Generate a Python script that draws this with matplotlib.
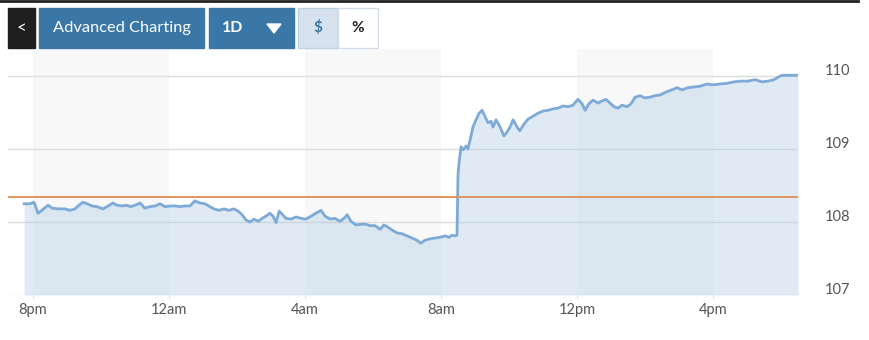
"""Intraday 1D price chart with previous-close line"""
import numpy as np
import matplotlib
matplotlib.use("Agg")
import matplotlib.pyplot as plt
import matplotlib.patches as mpatches
import matplotlib.transforms as mtransforms

plt.rcParams["font.family"] = ["Lato", "DejaVu Sans"]

# hours after 8pm, price
hours = [-0.26, -0.09, 0.03, 0.15, 0.26, 0.44, 0.56, 0.74, 0.94, 1.09, 1.24, 1.35, 1.47, 1.59,
         1.74, 1.88, 2.06, 2.21, 2.35, 2.47, 2.62, 2.74, 2.88, 3.0, 3.15, 3.29, 3.44, 3.59,
         3.74, 3.88, 4.03, 4.18, 4.32, 4.47, 4.62, 4.76, 4.91, 5.06, 5.21, 5.32, 5.47, 5.62,
         5.76, 5.91, 6.03, 6.15, 6.26, 6.38, 6.5, 6.62, 6.74, 6.85, 6.97, 7.06, 7.15, 7.24,
         7.32, 7.44, 7.59, 7.74, 7.88, 8.03, 8.18, 8.32, 8.47, 8.59, 8.74, 8.88, 9.03, 9.15,
         9.24, 9.35, 9.5, 9.65, 9.79, 9.91, 10.06, 10.21, 10.32, 10.44, 10.56, 10.71, 10.85,
         11.0, 11.15, 11.29, 11.41, 11.53, 11.68, 11.82, 11.97, 12.12, 12.24, 12.32, 12.41,
         12.47, 12.5, 12.53, 12.59, 12.65, 12.74, 12.79, 12.85, 12.94, 13.03, 13.12, 13.21,
         13.29, 13.38, 13.47, 13.53, 13.62, 13.74, 13.85, 13.94, 14.03, 14.12, 14.24, 14.32,
         14.44, 14.56, 14.71, 14.85, 15.0, 15.15, 15.29, 15.44, 15.59, 15.74, 15.88, 16.03,
         16.15, 16.24, 16.35, 16.47, 16.62, 16.74, 16.85, 16.97, 17.09, 17.21, 17.32, 17.47,
         17.59, 17.71, 17.85, 18.0, 18.15, 18.29, 18.44, 18.62, 18.79, 18.94, 19.09, 19.26,
         19.44, 19.62, 19.82, 20.0, 20.21, 20.41, 20.62, 20.82, 21.03, 21.24, 21.44, 21.62,
         21.79, 21.94, 22.03, 22.26, 22.5]
price = [108.25, 108.25, 108.27, 108.12, 108.16, 108.23, 108.19, 108.18, 108.18, 108.16, 108.18,
         108.23, 108.27, 108.25, 108.22, 108.21, 108.18, 108.22, 108.26, 108.23, 108.22, 108.23,
         108.21, 108.23, 108.26, 108.19, 108.21, 108.22, 108.25, 108.21, 108.22, 108.22, 108.21,
         108.22, 108.22, 108.29, 108.26, 108.25, 108.21, 108.18, 108.16, 108.18, 108.16, 108.18,
         108.15, 108.10, 108.03, 108.0, 108.04, 108.01, 108.05, 108.08, 108.12, 108.08, 107.99,
         108.15, 108.11, 108.05, 108.04, 108.07, 108.05, 108.04, 108.08, 108.12, 108.16, 108.08,
         108.04, 108.05, 108.01, 108.05, 108.10, 108.01, 107.96, 107.97, 107.97, 107.95, 107.95,
         107.90, 107.96, 107.93, 107.89, 107.85, 107.84, 107.81, 107.78, 107.75, 107.71, 107.75,
         107.77, 107.78, 107.79, 107.81, 107.79, 107.82, 107.81, 107.82, 108.64, 108.81, 109.03,
         108.99, 109.04, 109.0, 109.11, 109.3, 109.4, 109.49, 109.53, 109.45, 109.36, 109.38,
         109.3, 109.4, 109.3, 109.18, 109.23, 109.3, 109.4, 109.3, 109.25, 109.34, 109.41, 109.45,
         109.49, 109.52, 109.53, 109.55, 109.56, 109.59, 109.58, 109.6, 109.68, 109.62, 109.53,
         109.62, 109.67, 109.63, 109.66, 109.68, 109.63, 109.58, 109.56, 109.6, 109.58, 109.62,
         109.71, 109.73, 109.7, 109.71, 109.73, 109.74, 109.78, 109.81, 109.84, 109.81, 109.84,
         109.85, 109.86, 109.89, 109.88, 109.89, 109.9, 109.92, 109.93, 109.93, 109.95, 109.92,
         109.93, 109.95, 109.99, 110.01, 110.01, 110.01]
prev_close = 108.34

tick_hours = [0, 4, 8, 12, 16, 20]
tick_labels = ["8pm", "12am", "4am", "8am", "12pm", "4pm"]
price_ticks = [107, 108, 109, 110]

fig = plt.figure(figsize=(8.7, 3.4), dpi=100)
ax = fig.add_axes([8 / 870, 1 - 295 / 340, 790 / 870, 246 / 340])
ax.set_xlim(-0.735, 22.5)
ax.set_ylim(107, 110.37)

# alternating time bands
for start in tick_hours[::2]:
    ax.axvspan(start, start + 4, color="#f8f8f8", lw=0, zorder=0)

for p in price_ticks:
    ax.axhline(p, color="#dcdcdc", lw=1, zorder=1)

ax.fill_between(hours, price, 107, color="#a9c8e3", alpha=0.37, lw=0, zorder=2)
ax.plot(hours, price, color="#7eaad8", lw=2.0, zorder=3)
ax.axhline(prev_close, color="#e0955f", lw=1.4, zorder=4)

for s in ax.spines.values():
    s.set_visible(False)
ax.set_xticks(tick_hours)
ax.set_xticklabels(tick_labels)
ax.tick_params(axis="x", length=3, color="#e4e4e4", labelsize=10.5, labelcolor="#555555", pad=3)
ax.yaxis.tick_right()
ax.set_yticks(price_ticks)
ax.tick_params(axis="y", length=0, labelsize=10.5, labelcolor="#555555", pad=19)
shift = mtransforms.ScaledTranslation(0, 0.07, fig.dpi_scale_trans)
for lab in ax.get_yticklabels():
    lab.set_transform(lab.get_transform() + shift)

# toolbar on top, in pixel coordinates
ui = fig.add_axes([0, 0, 1, 1], zorder=10)
ui.set_xlim(0, 870)
ui.set_ylim(340, 0)
ui.axis("off")
ui.plot([0, 858], [1, 1], color="#222222", lw=2)
ui.add_patch(mpatches.Rectangle((8, 8), 27, 40, color="#1e1e1e"))
ui.text(21.5, 28, "<", color="white", fontsize=12, ha="center", va="center")
ui.add_patch(mpatches.Rectangle((39, 8), 165, 40, color="#3a77a7"))
ui.text(121.5, 28, "Advanced Charting", color="white", fontsize=11.8, ha="center", va="center")
ui.add_patch(mpatches.Rectangle((209, 8), 85, 40, color="#3a77a7"))
ui.text(233, 28, "1D", color="white", fontsize=11.5, weight="bold", ha="center", va="center")
ui.add_patch(mpatches.Polygon([[267, 24], [281, 24], [274, 33]], color="white"))
ui.add_patch(mpatches.Rectangle((298, 8), 40, 40, facecolor="#d6e3ef", edgecolor="#bcd0e2", lw=1))
ui.text(318, 28, "$", color="#3a77a7", fontsize=11, weight="bold", ha="center", va="center")
ui.add_patch(mpatches.Rectangle((338, 8), 40, 40, facecolor="white", edgecolor="#d3dee9", lw=1))
ui.text(358, 28, "%", color="#222222", fontsize=11, weight="bold", ha="center", va="center")

fig.savefig("out.png", dpi=100)
